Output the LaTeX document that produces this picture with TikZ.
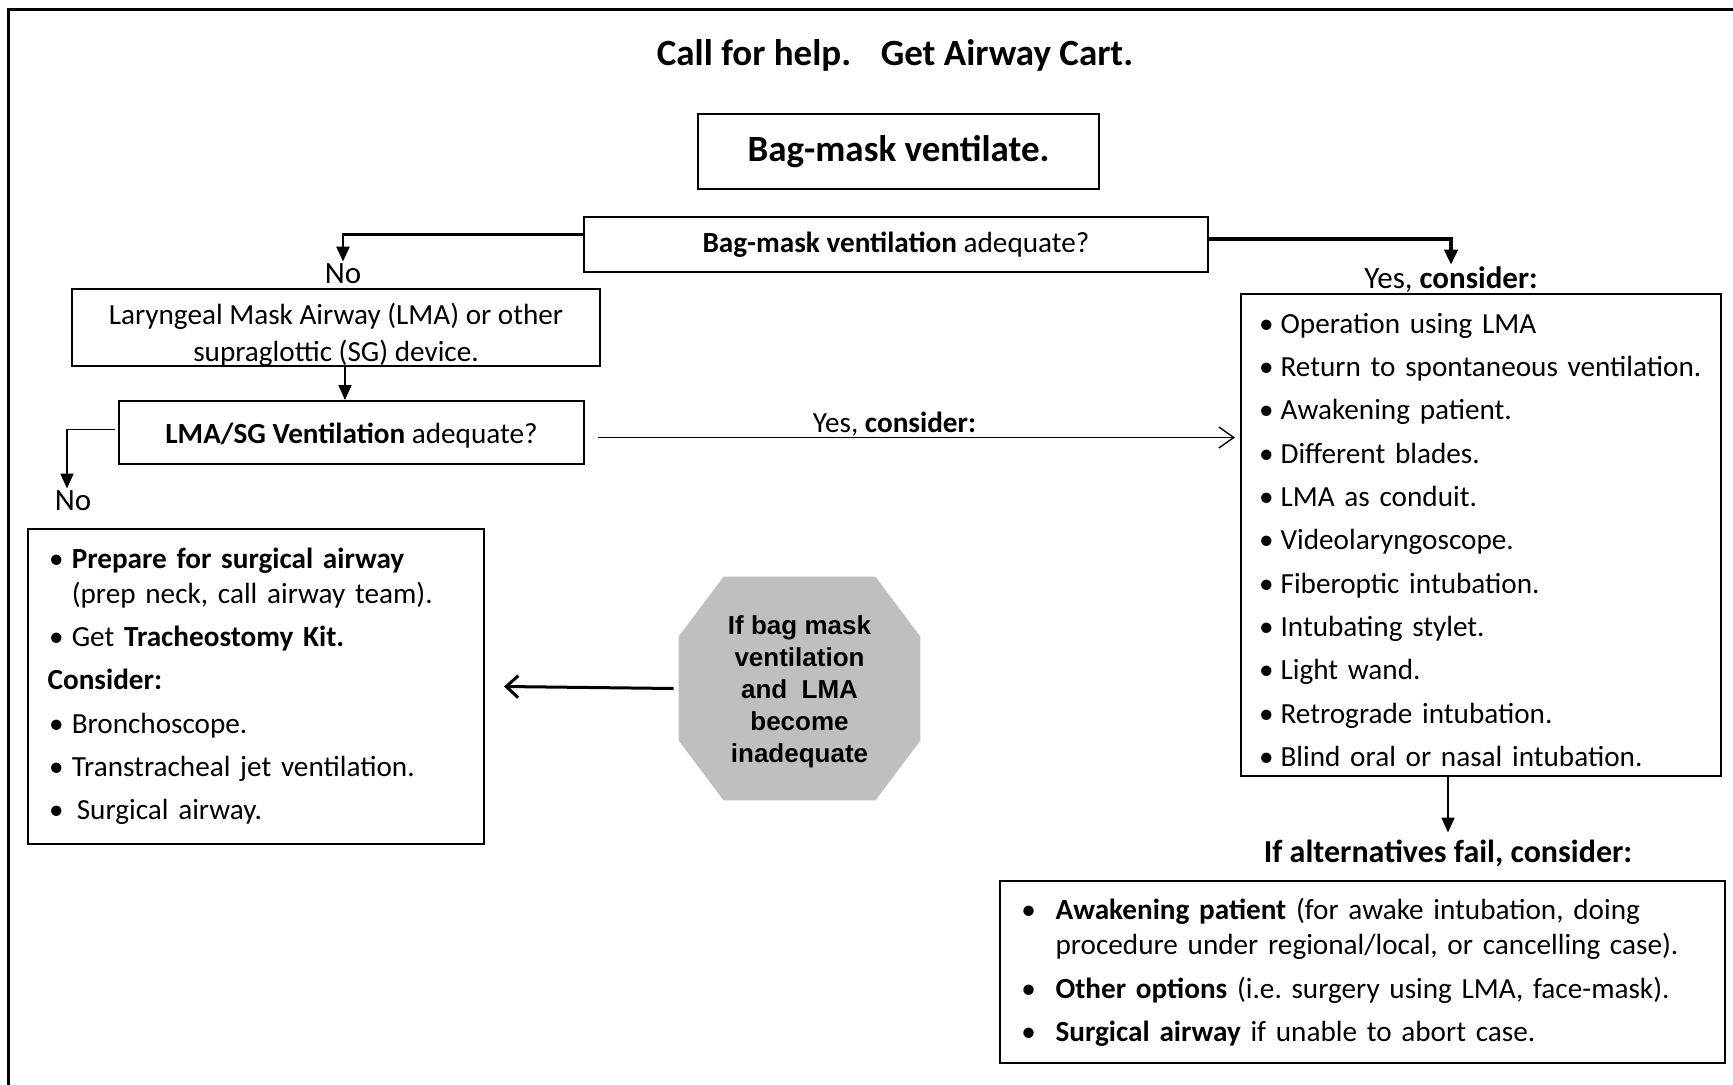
\documentclass[tikz,border=0pt]{standalone}
\usepackage{fontspec}
\setmainfont{Carlito}
\newfontfamily\arialfont{Liberation Sans}
\usetikzlibrary{arrows.meta,positioning,calc,backgrounds}
\definecolor{stopgray}{RGB}{191,191,191}
\newcommand{\bul}[1]{\makebox[#1][l]{•}}
\frenchspacing

\begin{document}
\begin{tikzpicture}[x=0.5pt,y=-0.5pt,
  box/.style={draw,line width=1pt,inner sep=0pt,align=center},
  listbox/.style={draw,line width=1pt,align=left,inner ysep=0pt},
  body/.style={font=\fontsize{14.6}{21.65}\selectfont},
  lbl/.style={inner sep=1pt,font=\fontsize{15.5}{18}\selectfont},
  stopsign/.style={inner sep=0pt,minimum width=120.5pt,minimum height=111.5pt,align=center,
    font=\arialfont\bfseries\fontsize{13}{16}\selectfont},
  conn/.style={-{Triangle[length=7.5pt,width=6.5pt]},line width=0.9pt},
  barb/.style={-{Straight Barb[length=7.5pt,width=10.5pt]},line width=0.7pt}]
  \useasboundingbox (0,0) rectangle (1733,1085);
  \draw[line width=1.5pt] (8,1085) |- (1733,10);

  \node[font=\bfseries\fontsize{18.5}{22}\selectfont] (help) at (895,55) {Call for help.\hspace{0.8em}Get Airway Cart.};
  \node[box,minimum width=200.5pt,minimum height=37.5pt,font=\bfseries\fontsize{18.5}{22}\selectfont] (bmv) at (898.5,151.5) {Bag-mask ventilate.};
  \node[box,body,minimum width=312pt,minimum height=27.5pt] (bma) at (896,244.5) {\textbf{Bag-mask ventilation} adequate?};

  \node[lbl] (noA) at (343,274) {No};
  \node[lbl] (yesA) at (1451,280) {Yes, \textbf{consider:}};

  \node[box,body,minimum width=264pt,minimum height=37.5pt,font=\fontsize{14.6}{18.2}\selectfont] (lma) at (336,327.5) {\rule{0pt}{18pt}Laryngeal Mask Airway (LMA) or other\\supraglottic (SG) device.};
  \node[box,body,minimum width=232.5pt,minimum height=31.5pt] (lmasg) at (351.5,432.5) {\rule{0pt}{13pt}\textbf{LMA/SG Ventilation} adequate?};
  \node[lbl] (noB) at (73,501) {No};

  % plan B list
  \node[listbox,body,text width=222pt,inner xsep=9pt,minimum height=241pt] (yesbox) at (1481,535) {%
    \bul{10.8pt}\rule{0pt}{15pt}Operation using LMA\\
    \bul{10.8pt}Return to spontaneous ventilation.\\
    \bul{10.8pt}Awakening patient.\\
    \bul{10.8pt}Different blades.\\
    \bul{10.8pt}LMA as conduit.\\
    \bul{10.8pt}Videolaryngoscope.\\
    \bul{10.8pt}Fiberoptic intubation.\\
    \bul{10.8pt}Intubating stylet.\\
    \bul{10.8pt}Light wand.\\
    \bul{10.8pt}Retrograde intubation.\\
    \bul{10.8pt}Blind oral or nasal intubation.};

  \node[font=\bfseries\fontsize{16}{19}\selectfont] (fail) at (1448,853) {If alternatives fail, consider:};
  \node[listbox,body,text width=341.1pt,inner xsep=10.7pt,minimum height=91pt] (failbox) at (1362.5,972) {%
    \bul{17.1pt}\textbf{Awakening patient} (for awake intubation, doing\\[-3.8pt]
    \hspace*{17.1pt}procedure under regional/local, or cancelling case).\\
    \bul{17.1pt}\textbf{Other options} (i.e. surgery using LMA, face-mask).\\
    \bul{17.1pt}\textbf{Surgical airway} if unable to abort case.};

  % surgical airway list
  \node[listbox,body,text width=207pt,inner xsep=10.5pt,minimum height=157.5pt] (surg) at (256,686.5) {%
    \bul{11.4pt}\textbf{Prepare for surgical airway}\\[-4.5pt]
    \hspace*{11.4pt}(prep neck, call airway team).\\
    \bul{11.4pt}Get \textbf{Tracheostomy Kit.}\\
    \hspace*{-0.7pt}\textbf{Consider:}\\
    \bul{11.4pt}Bronchoscope.\\
    \bul{11.4pt}Transtracheal jet ventilation.\\
    \bul{11.4pt}\hspace{2.5pt}Surgical airway.};

  \node[stopsign] (stop) at (799.5,688.5) {\rule{0pt}{13pt}If bag mask\\ventilation\\and\hspace{0.55em}LMA\\become\\inadequate};
  \begin{scope}[on background layer]
    \fill[stopgray] ([xshift=22.5pt]stop.north west) -- ([xshift=-22.5pt]stop.north east)
      -- ([yshift=-30pt]stop.north east) -- ([yshift=30pt]stop.south east)
      -- ([xshift=-22.5pt]stop.south east) -- ([xshift=22.5pt]stop.south west)
      -- ([yshift=30pt]stop.south west) -- ([yshift=-30pt]stop.north west) -- cycle;
  \end{scope}

  \draw[conn,line width=1.3pt] ([yshift=5pt]bma.west) -| (noA.north);
  \draw[conn,line width=2pt] ([yshift=2.5pt]bma.east) -| (yesA.north);
  \draw[conn] ([xshift=4.5pt]lma.south) -- ([xshift=4.5pt]lma.south |- lmasg.north);
  \draw[conn] ([xshift=-1.5pt,yshift=1.5pt]lmasg.west) -| ([xshift=-3pt]noB.north);
  \draw[barb] ([xshift=6.5pt,yshift=-2.5pt]lmasg.east) -- ([xshift=-2.5pt,yshift=-2.5pt]lmasg.east -| yesbox.west)
    node[midway,above=-3pt,xshift=-11pt,body] {Yes, \textbf{consider:}};
  \draw[conn] (fail.north |- yesbox.south) -- (fail.north);
  \draw[-{Straight Barb[length=6pt,width=11pt]},line width=1.5pt] ([xshift=-2.5pt]stop.west) -- ([xshift=9.5pt]surg.east);
\end{tikzpicture}
\end{document}
